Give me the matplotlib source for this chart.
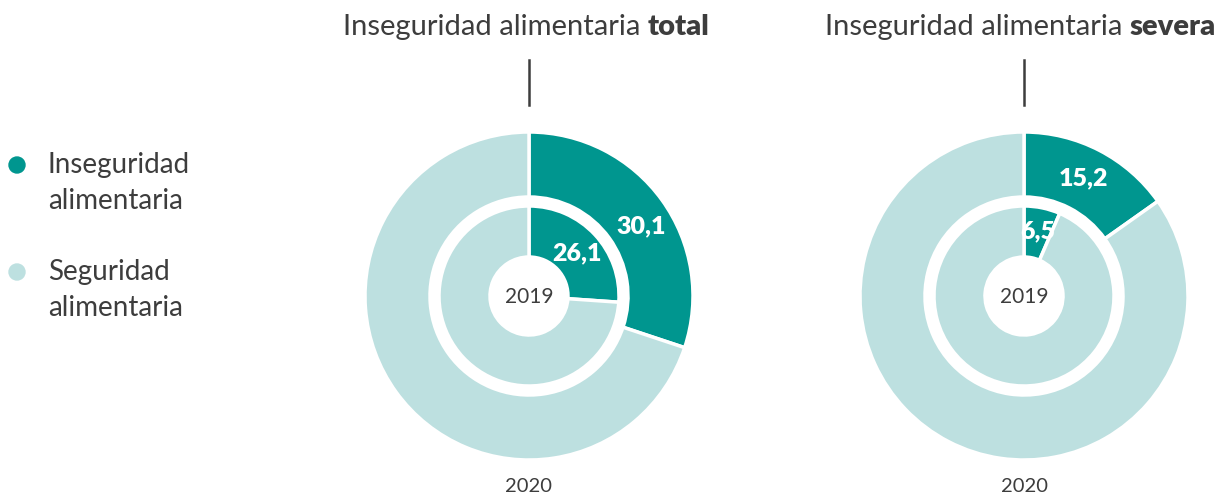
import matplotlib
matplotlib.use("Agg")
import matplotlib.pyplot as plt
from matplotlib.patches import Circle

plt.rcParams['font.family'] = ['Lato', 'DejaVu Sans']

# data
panels = ["total", "severa"]
inseg_2019 = [26.1, 6.5]
inseg_2020 = [30.1, 15.2]
labels_2019 = ["26,1", "6,5"]
labels_2020 = ["30,1", "15,2"]
legend_names = ["Inseguridad\nalimentaria", "Seguridad\nalimentaria"]

teal = "#00968F"
light = "#BDE0E0"
grey = "#3d3d3d"

W, H = 1223, 495
fig = plt.figure(figsize=(W / 100, H / 100), dpi=100)
ax = fig.add_axes([0, 0, 1, 1])
ax.axis("off")

centers = [(529, H - 296), (1024, H - 296)]
title_x = [343, 825]
r_out, w_out = 164, 65
r_in, w_in = 90, 51
r_hole = 39
# label offsets (px) from the donut centre
off_2020 = [(112, 70), (59, 118)]
off_2019 = [(48, 43), (14, 65)]

for i, name in enumerate(panels):
    cx, cy = centers[i]
    ax.pie([inseg_2020[i], 100 - inseg_2020[i]], colors=[teal, light],
           startangle=90, counterclock=False, radius=r_out, center=(cx, cy),
           wedgeprops=dict(width=w_out, edgecolor="white", linewidth=2.5), frame=True)
    ax.pie([inseg_2019[i], 100 - inseg_2019[i]], colors=[teal, light],
           startangle=90, counterclock=False, radius=r_in, center=(cx, cy),
           wedgeprops=dict(width=w_in, edgecolor="white", linewidth=2.5), frame=True)
    ax.add_patch(Circle((cx, cy), r_hole, color="white", zorder=3))

    ax.text(cx + off_2020[i][0], cy + off_2020[i][1], labels_2020[i], color="white",
            fontsize=18, fontweight="heavy", ha="center", va="center", zorder=4)
    ax.text(cx + off_2019[i][0], cy + off_2019[i][1], labels_2019[i], color="white",
            fontsize=18, fontweight="heavy", ha="center", va="center", zorder=4)

    ax.text(cx, cy - 1, "2019", color=grey, fontsize=15, ha="center", va="center", zorder=4)
    ax.text(cx, H - 486, "2020", color=grey, fontsize=14.5, ha="center", va="center")

    ax.plot([cx, cx], [H - 60, H - 105], color=grey, lw=1.8)

    t1 = ax.text(title_x[i], H - 27, "Inseguridad alimentaria ", color=grey,
                 fontsize=21, ha="left", va="center")
    ax.annotate(name, xy=(1, 0), xycoords=t1, ha="left", va="bottom",
                color=grey, fontsize=21, fontweight="heavy")

ax.set_xlim(0, W)
ax.set_ylim(0, H)
ax.set_aspect("equal")

# legend
for j, (nm, col) in enumerate(zip(legend_names, [teal, light])):
    y = H - (165 + 107 * j)
    ax.add_patch(Circle((17, y), 8, color=col))
    for k, line in enumerate(nm.split("\n")):
        ax.text(48, y - 36 * k, line, color=grey, fontsize=20, ha="left", va="center")

fig.savefig("out.png", dpi=100)
